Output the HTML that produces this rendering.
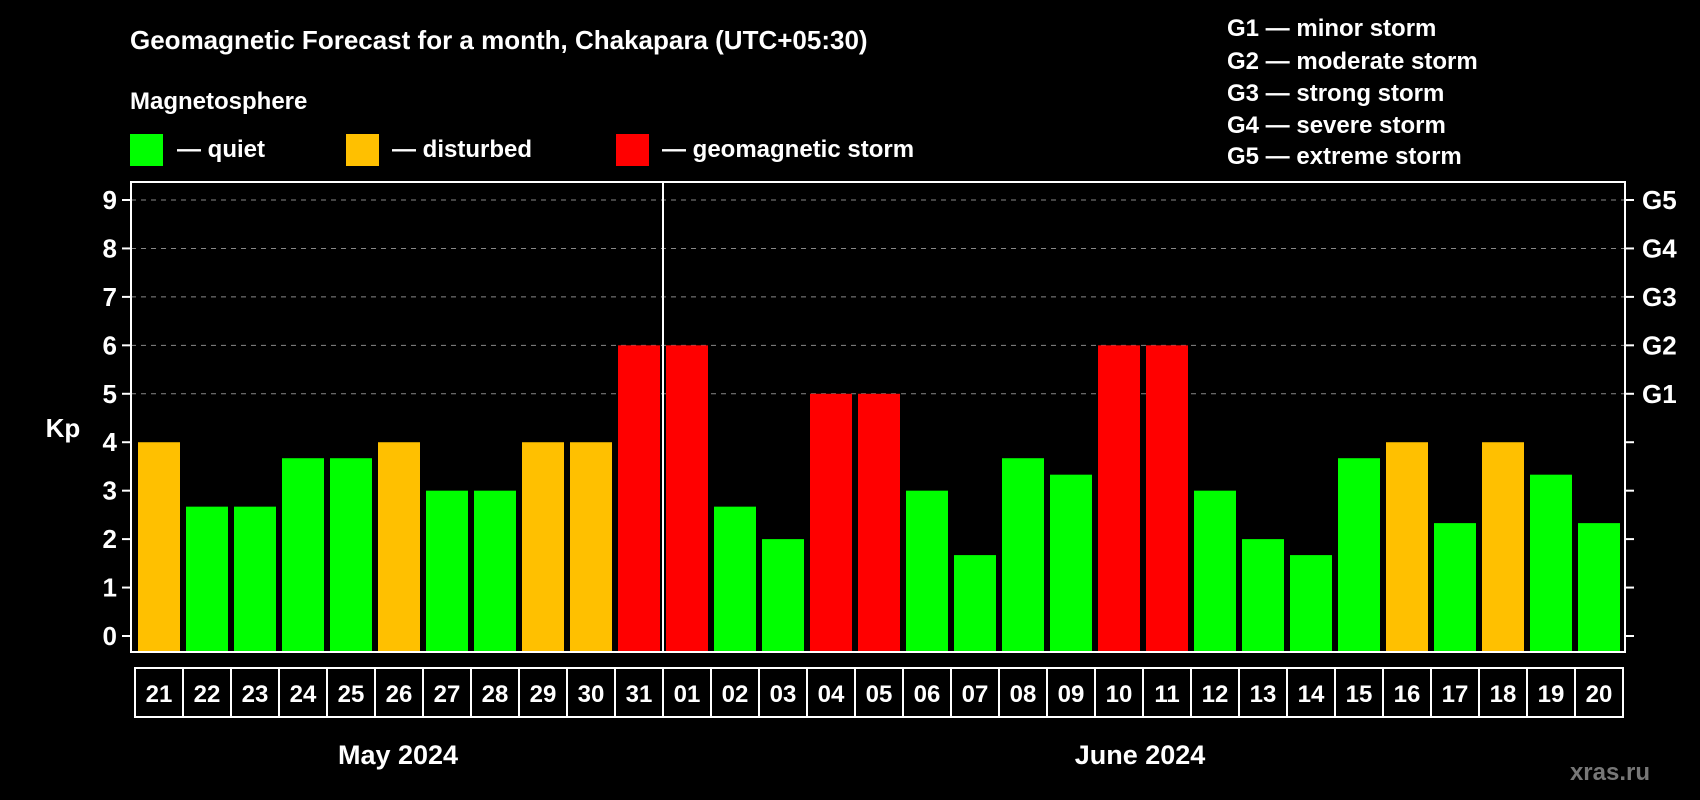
<!DOCTYPE html>
<html><head><meta charset="utf-8"><style>
html,body{margin:0;padding:0;background:#000;}
svg{display:block;font-family:"Liberation Sans",Arial,sans-serif;font-weight:bold;}
</style></head><body>
<svg id="chart" width="1700" height="800" viewBox="0 0 1700 800">
<rect x="0" y="0" width="1700" height="800" fill="#000"/>
<text x="130" y="49" fill="#fff" font-size="26">Geomagnetic Forecast for a month, Chakapara (UTC+05:30)</text>
<text x="130" y="109" fill="#fff" font-size="24">Magnetosphere</text>
<g><rect x="130" y="134" width="33" height="32" fill="#00ff00"/><text x="177" y="157" fill="#fff" font-size="24">— quiet</text></g>
<g><rect x="346" y="134" width="33" height="32" fill="#ffc000"/><text x="392" y="157" fill="#fff" font-size="24">— disturbed</text></g>
<g><rect x="616" y="134" width="33" height="32" fill="#ff0000"/><text x="662" y="157" fill="#fff" font-size="24">— geomagnetic storm</text></g>
<g fill="#fff" font-size="24">
<text x="1227" y="36">G1 — minor storm</text>
<text x="1227" y="69">G2 — moderate storm</text>
<text x="1227" y="101">G3 — strong storm</text>
<text x="1227" y="133">G4 — severe storm</text>
<text x="1227" y="164">G5 — extreme storm</text>
</g>
<text x="63" y="437" fill="#fff" font-size="26" text-anchor="middle">Kp</text>
<g id="grid"></g><g id="bars"></g><g id="axes"></g><g id="xlabels"></g>
<text x="398" y="764" fill="#fff" font-size="27" text-anchor="middle">May 2024</text>
<text x="1140" y="764" fill="#fff" font-size="27" text-anchor="middle">June 2024</text>
<text x="1650" y="780" fill="#777" font-size="24" text-anchor="end">xras.ru</text>
</svg>
<script>
const days = ["21","22","23","24","25","26","27","28","29","30","31","01","02","03","04","05","06","07","08","09","10","11","12","13","14","15","16","17","18","19","20"];
const kpValues = [4,2.67,2.67,3.67,3.67,4,3,3,4,4,6,6,2.67,2,5,5,3,1.67,3.67,3.33,6,6,3,2,1.67,3.67,4,2.33,4,3.33,2.33];
const yTicks = [0,1,2,3,4,5,6,7,8,9];
const gLabels = ["G1","G2","G3","G4","G5"];
const NS="http://www.w3.org/2000/svg";
const L=131,R=1625,T=182,B=652,X0=135,P=48;
function y(v){return 636-v*(636-200)/9;}
function x(i){return X0+i*P;}
function mk(tag,parent,attrs){const e=document.createElementNS(NS,tag);for(const k in attrs)e.setAttribute(k,attrs[k]);document.getElementById(parent).appendChild(e);return e;}
yTicks.forEach(v=>{
  if(v>=5){const g=mk('line','grid',{x1:L,x2:R,y1:y(v),y2:y(v),stroke:'#888','stroke-dasharray':'5,5','stroke-width':1});
  
  }
  const t1=mk('line','axes',{x1:L-9,x2:L,y1:y(v),y2:y(v),stroke:'#fff','stroke-width':2});
  
  
  const t2=mk('line','axes',{x1:R,x2:R+9,y1:y(v),y2:y(v),stroke:'#fff','stroke-width':2});
  
  
  const lb=mk('text','axes',{x:117,y:y(v)+9,fill:'#fff','font-size':26,'text-anchor':'end'});
  lb.textContent=v;
  
  
});
gLabels.forEach((g,i)=>{
  const t=mk('text','axes',{x:1642,y:y(5+i)+9,fill:'#fff','font-size':26});
  t.textContent=g;
  
  
});
kpValues.forEach((v,i)=>{
  const c=v>=5?'#ff0000':(v>=4?'#ffc000':'#00ff00');
  const b=mk('rect','bars',{x:x(i)+3,y:y(v),width:42,height:B-y(v),fill:c});
  
  
});
days.forEach((d,i)=>{
  const r=mk('rect','xlabels',{x:x(i),y:B+16,width:P,height:49,fill:'none',stroke:'#fff','stroke-width':2});
  
  
  const t=mk('text','xlabels',{x:x(i)+P/2,y:B+50,fill:'#fff','font-size':24,'text-anchor':'middle'});
  t.textContent=d;
  
  
});
const box=mk('rect','axes',{x:L,y:T,width:R-L,height:B-T,fill:'none',stroke:'#fff','stroke-width':2});


const div=mk('line','axes',{x1:x(11),x2:x(11),y1:T,y2:B,stroke:'#fff','stroke-width':2});


</script>
</body></html>
